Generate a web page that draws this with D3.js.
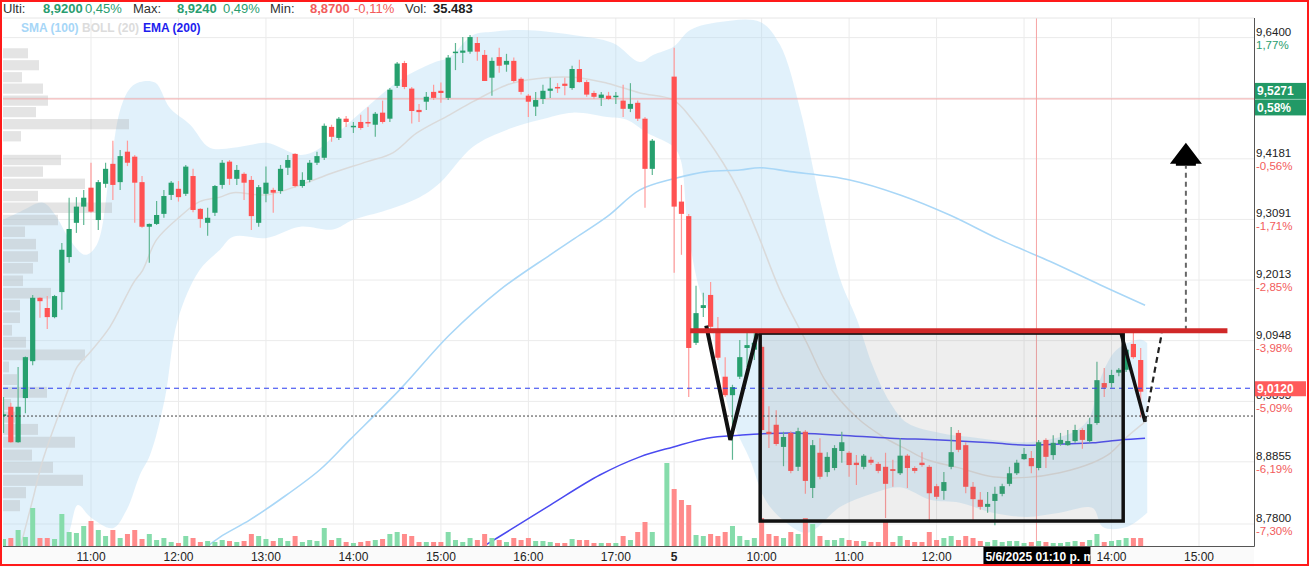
<!DOCTYPE html>
<html><head><meta charset="utf-8">
<script src="https://cdn.jsdelivr.net/npm/d3@7"></script>
<style>
html,body{margin:0;padding:0;background:#fff;}
svg{display:block;font-family:"Liberation Sans",Arial,sans-serif;}
</style></head><body>
<svg id="chart" width="1310" height="567"></svg>
<script>
// ---------- DATA ----------
// bar slots: 5-minute index (day 1 09:00 = 0, day 2 09:00 = 104)
const slots = [12,13,14,15,16,17,18,19,20,21,22,23,24,25,26,27,28,29,30,31,32,33,34,35,36,37,38,39,40,41,
42,43,44,45,46,47,48,49,50,51,52,53,54,55,56,57,58,59,60,61,62,63,64,65,66,67,68,69,70,71,
72,73,74,75,76,77,78,79,80,81,82,83,84,85,86,87,88,89,90,91,92,93,94,95,96,97,98,99,100,101,103,
104,105,106,107,108,109,110,111,112,113,114,115,116,117,118,119,120,121,122,123,124,125,126,127,128,129,130,131,132,133,
134,135,136,137,138,139,140,141,142,143,144,145,146,147,148,149,150,151,152,153,154,155,156,157,158,159,160,161,162,163,
164,165,166,167,168];
const opens = [8.964,8.980,8.919,8.995,9.059,9.170,9.152,9.136,9.180,9.242,
9.303,9.332,9.366,9.308,9.373,9.409,9.376,9.431,9.422,9.376,
9.296,9.301,9.319,9.353,9.364,9.355,9.387,9.328,9.303,9.321,
9.371,9.413,9.382,9.391,9.380,9.303,9.355,9.362,9.360,9.402,
9.427,9.369,9.380,9.411,9.420,9.476,9.456,9.491,9.476,9.485,
9.485,9.480,9.502,9.491,9.551,9.593,9.546,9.507,9.522,9.540,
9.542,9.529,9.612,9.612,9.614,9.630,9.608,9.566,9.604,9.590,
9.597,9.564,9.533,9.513,9.527,9.542,9.549,9.555,9.547,9.582,
9.558,9.538,9.529,9.533,9.532,9.524,9.509,9.520,9.491,9.400,null,
9.568,9.341,9.315,9.091,9.152,9.175,9.110,9.032,9.000,9.032,
9.082,9.079,9.084,8.937,8.949,8.911,8.935,8.877,8.937,8.841,
8.901,8.868,8.875,8.904,8.901,8.884,8.877,8.889,8.882,8.877,
8.873,8.866,8.896,8.875,8.884,8.877,8.844,8.836,8.877,8.935,
8.914,8.843,8.821,8.809,8.819,8.831,8.848,8.866,8.890,8.892,
8.875,8.923,8.897,8.916,8.914,8.921,8.940,8.921,8.952,9.021,
9.021,9.039,9.044,9.089,9.061];
const highs = [8.997,8.987,9.049,9.067,9.175,9.171,9.173,9.175,9.267,9.348,
9.349,9.362,9.411,9.380,9.411,9.451,9.434,9.451,9.425,9.387,
9.302,9.342,9.362,9.378,9.378,9.407,9.400,9.329,9.330,9.371,
9.416,9.416,9.407,9.394,9.387,9.371,9.404,9.366,9.407,9.425,
9.428,9.394,9.416,9.431,9.482,9.480,9.494,9.496,9.485,9.498,
9.512,9.503,9.524,9.547,9.595,9.597,9.549,9.518,9.540,9.553,
9.557,9.608,9.630,9.641,9.645,9.641,9.617,9.603,9.621,9.610,
9.603,9.567,9.536,9.540,9.553,9.566,9.556,9.566,9.588,9.599,
9.562,9.542,9.540,9.540,9.540,9.553,9.556,9.524,9.494,9.454,null,
9.621,9.371,9.319,9.191,9.179,9.198,9.136,9.066,9.018,9.096,
9.108,9.108,9.087,8.981,8.974,8.937,8.938,8.944,8.940,8.923,
8.926,8.902,8.914,8.937,8.904,8.897,8.899,8.894,8.885,8.901,
8.889,8.926,8.899,8.878,8.902,8.880,8.848,8.868,8.945,8.940,
8.919,8.851,8.834,8.834,8.843,8.848,8.877,8.889,8.909,8.904,
8.923,8.926,8.931,8.935,8.940,8.949,8.943,8.961,9.058,9.047,
9.044,9.047,9.082,9.112,9.082];
const lows = [8.935,8.918,8.918,8.969,9.052,9.135,9.115,9.134,9.149,9.232,
9.285,9.299,9.321,9.290,9.366,9.344,9.362,9.405,9.303,9.294,
9.232,9.299,9.312,9.344,9.341,9.351,9.322,9.294,9.280,9.315,
9.364,9.371,9.371,9.344,9.290,9.296,9.340,9.321,9.355,9.389,
9.367,9.366,9.376,9.407,9.416,9.449,9.452,9.476,9.465,9.471,
9.476,9.458,9.482,9.485,9.547,9.545,9.482,9.485,9.507,9.525,
9.520,9.525,9.580,9.593,9.610,9.597,9.560,9.533,9.575,9.577,
9.557,9.535,9.494,9.496,9.518,9.529,9.538,9.534,9.544,9.557,
9.531,9.527,9.514,9.525,9.518,9.494,9.503,9.487,9.330,9.389,null,
9.214,9.246,8.997,9.087,9.136,9.114,9.061,8.997,8.889,9.028,
9.049,9.061,8.937,8.909,8.913,8.878,8.866,8.870,8.831,8.824,
8.856,8.860,8.871,8.884,8.860,8.846,8.873,8.880,8.866,8.790,
8.843,8.863,8.841,8.866,8.877,8.783,8.822,8.821,8.873,8.902,
8.832,8.787,8.804,8.799,8.778,8.827,8.844,8.863,8.889,8.866,
8.871,8.875,8.889,8.913,8.913,8.918,8.908,8.918,8.949,8.997,
9.013,9.033,9.040,9.063,8.961];
const closes = [8.967,8.919,8.980,9.066,9.170,9.164,9.136,9.173,9.255,9.292,
9.332,9.348,9.323,9.376,9.400,9.371,9.423,9.411,9.375,9.296,
9.301,9.317,9.351,9.375,9.349,9.404,9.326,9.310,9.312,9.369,
9.411,9.382,9.398,9.375,9.315,9.367,9.375,9.357,9.400,9.416,
9.369,9.380,9.411,9.423,9.478,9.458,9.491,9.485,9.478,9.474,
9.483,9.500,9.485,9.544,9.592,9.549,9.505,9.503,9.531,9.529,
9.538,9.603,9.614,9.616,9.641,9.614,9.560,9.597,9.588,9.597,
9.560,9.540,9.522,9.525,9.542,9.546,9.547,9.551,9.582,9.558,
9.535,9.531,9.535,9.527,9.533,9.509,9.518,9.491,9.400,9.451,null,
9.332,9.319,9.082,9.143,9.157,9.119,9.065,9.000,9.014,9.066,
9.087,9.091,8.940,8.933,8.916,8.928,8.870,8.938,8.853,8.914,
8.860,8.894,8.909,8.919,8.880,8.880,8.896,8.884,8.870,8.848,
8.870,8.896,8.875,8.870,8.880,8.832,8.826,8.851,8.902,8.906,
8.843,8.822,8.809,8.814,8.831,8.844,8.866,8.884,8.899,8.878,
8.919,8.894,8.918,8.923,8.921,8.940,8.923,8.950,9.026,9.013,
9.035,9.044,9.079,9.066,9.006];
// volume in thousands of shares
const volumesK = [7,8,16,9,38,8,8,7,32,14,
13,20,25,16,10,16,8,12,16,7,
12,6,8,4,3,10,8,4,5,4,
6,5,4,5,12,10,7,5,8,5,
10,4,6,5,18,6,8,4,3,4,
5,6,7,12,14,12,10,4,4,4,
4,14,6,4,8,6,12,8,6,4,
8,6,8,5,5,4,3,3,7,6,
6,3,3,3,3,10,6,14,24,14,83,
57,46,41,11,10,12,10,14,20,10,
6,8,28,12,10,8,14,12,28,22,
10,6,6,8,6,5,5,4,4,26,
4,10,6,4,4,14,6,8,10,6,
10,8,5,4,6,4,5,5,3,4,
5,4,3,3,4,5,4,6,12,4,
5,6,8,8,8];

// Bollinger (20), SMA (100), EMA (200): [slot, price]
const bollUpper = [[11.5,9.306],[14.3,9.323],[17.4,9.339],[19.1,9.317],[21.1,9.273],[23.2,9.246],[24.8,9.264],[26.6,9.398],[28.0,9.507],[29.4,9.547],[30.7,9.558],[32.8,9.557],[34.8,9.511],[37.6,9.480],[40.3,9.438],[43.5,9.438],[45.8,9.443],[48.1,9.447],[52.7,9.425],[55.0,9.434],[57.2,9.458],[61.9,9.513],[66.4,9.562],[70.9,9.593],[73.2,9.604],[76.4,9.645],[79.2,9.651],[83.3,9.654],[90.1,9.645],[95.6,9.630],[99.3,9.595],[101.1,9.608],[103.9,9.623],[106.2,9.654],[110.3,9.669],[115.8,9.669],[118.5,9.627],[121.3,9.507],[124.0,9.344],[126.8,9.202],[129.1,9.131],[131.3,9.049],[133.6,8.988],[136.0,8.952],[140.5,8.935],[144.6,8.928],[147.7,8.923],[152.4,8.919],[156.9,8.928],[159.3,8.940],[161.0,8.962],[162.4,9.026],[164.7,9.079],[167.9,9.097],[168.9,9.091]];
const bollLower = [[11.5,8.719],[19.7,8.719],[21.1,8.770],[22.2,8.812],[23.9,8.792],[27.0,8.773],[28.9,8.804],[30.7,8.863],[32.1,8.897],[34.1,8.992],[35.9,9.131],[38.9,9.219],[41.7,9.255],[43.5,9.278],[48.1,9.276],[52.7,9.296],[57.2,9.291],[59.9,9.308],[64.6,9.326],[69.1,9.349],[71.9,9.375],[76.4,9.440],[81.1,9.471],[85.6,9.489],[90.1,9.502],[94.8,9.494],[97.5,9.489],[100.3,9.465],[103.9,9.440],[104.9,9.416],[105.9,9.289],[107.5,9.184],[108.5,9.154],[110.3,9.038],[112.1,8.952],[114.4,8.889],[116.5,8.821],[118.9,8.787],[122.2,8.765],[126.8,8.809],[131.3,8.832],[135.0,8.842],[139.1,8.821],[143.2,8.816],[147.7,8.799],[152.4,8.792],[156.9,8.799],[161.4,8.807],[162.8,8.775],[166.1,8.775],[168.9,8.799]];
const bollMid = [[14.3,8.741],[16.0,8.821],[17.4,8.889],[20.7,9.004],[22.1,9.049],[23.9,9.075],[26.6,9.119],[29.8,9.196],[31.1,9.219],[33.0,9.273],[36.2,9.314],[38.9,9.341],[41.7,9.349],[43.5,9.357],[48.1,9.353],[52.7,9.371],[57.2,9.393],[61.9,9.413],[65.4,9.429],[68.7,9.465],[73.2,9.498],[76.4,9.522],[81.1,9.553],[83.8,9.562],[90.1,9.567],[94.8,9.556],[99.3,9.538],[103.9,9.525],[106.2,9.494],[110.7,9.411],[113.0,9.357],[115.4,9.285],[118.5,9.184],[122.2,9.091],[124.9,9.022],[129.1,8.961],[132.7,8.928],[136.0,8.906],[138.7,8.889],[142.8,8.876],[147.7,8.860],[152.4,8.859],[156.9,8.867],[161.4,8.884],[163.8,8.900],[166.1,8.928],[168.9,8.957]];
const sma100 = [[39.6,8.739],[41.7,8.758],[45.8,8.787],[49.9,8.821],[55.4,8.872],[59.5,8.923],[66.4,9.010],[73.2,9.105],[80.1,9.184],[87.0,9.246],[90.1,9.273],[94.8,9.314],[99.3,9.362],[103.9,9.382],[108.5,9.395],[113.0,9.398],[115.8,9.402],[119.9,9.395],[128.1,9.380],[135.0,9.353],[141.8,9.317],[148.7,9.273],[155.6,9.234],[162.4,9.193],[168.6,9.157]];
const ema200 = [[77.4,8.739],[81.5,8.770],[87.0,8.812],[93.8,8.863],[99.3,8.894],[103.9,8.911],[108.5,8.926],[113.0,8.931],[119.9,8.935],[126.8,8.931],[133.6,8.926],[140.5,8.923],[147.7,8.918],[152.4,8.914],[156.9,8.916],[161.4,8.918],[165.2,8.923],[168.6,8.926]];

// volume profile (price bucket centre, volume in thousands)
const profilePrices = [8.811,8.833,8.854,8.876,8.897,8.919,8.941,8.962,8.984,9.005,9.027,9.049,9.070,9.092,9.113,9.135,9.157,9.178,9.200,9.222,9.243,9.265,9.287,9.308,9.330,9.351,9.373,9.395,9.416,9.438,9.459,9.481,9.503,9.524,9.546,9.567,9.589,9.611];
const profileVols = [17,23,80,50,29,72,35,12,8,44,14,6,82,23,9,17,17,48,20,30,35,33,22,55,109,35,82,40,58,0,18,126,33,45,40,19,36,25];

// axes
const timeTickSlots = [24,36,48,60,72,84,96,104,116,128,140,152,164,176];
const timeTickLabels = ["11:00","12:00","13:00","14:00","15:00","16:00","17:00","5","10:00","11:00","12:00","13:00","14:00","15:00"];
const gridPriceTicks = [9.64,9.5287,9.4181,9.3091,9.2013,9.0948,8.9893,8.8855,8.78];
const labelPriceTicks = [9.64,9.4181,9.3091,9.2013,9.0948,8.9893,8.8855,8.78];
const priceTickLabels = ["9,6400","9,4181","9,3091","9,2013","9,0948","8,9893","8,8855","8,7800"];
const pctTickLabels = ["1,77%","-0,56%","-1,71%","-2,85%","-3,98%","-5,09%","-6,19%","-7,30%"];

// reference levels
const refPrice = 9.5271, refPct = "0,58%";
const lastPrice = 9.0120;
const dottedLevel = 8.964;
const crosshairSlot = 153.7;
const crosshairLabel = "5/6/2025 01:10 p. m.";

// user drawings [slot, price]
const neckline = [[106.2,9.112],[179.9,9.112]];
const patternW = [[108.4,9.121],[111.7,8.923],[115.4,9.108]];
const rangeBox = [[115.8,9.108],[165.6,8.785]];
const breakLeg = [[165.2,9.113],[168.6,8.954]];
const projLeg = [[168.6,8.954],[170.9,9.108]];
const targetLine = [[174.2,9.112],[174.2,9.405]];
const targetTip = [174.2,9.447];

// header
const header = [
  {t:"Ulti:",x:3,c:"#333",b:false},{t:"8,9200",x:43,c:"#2a9d6f",b:true},{t:"0,45%",x:85,c:"#2a9d6f",b:false},
  {t:"Max:",x:133,c:"#333",b:false},{t:"8,9240",x:177,c:"#2a9d6f",b:true},{t:"0,49%",x:223,c:"#2a9d6f",b:false},
  {t:"Min:",x:270,c:"#333",b:false},{t:"8,8700",x:310,c:"#f25c5c",b:true},{t:"-0,11%",x:354,c:"#f25c5c",b:false},
  {t:"Vol:",x:405,c:"#333",b:false},{t:"35.483",x:433,c:"#222",b:true}];
const legend = [{t:"SMA (100)",x:21,c:"#a6d6f7"},{t:"BOLL (20)",x:82,c:"#dcdcdc"},{t:"EMA (200)",x:143,c:"#1d1dee"}];

// ---------- CHART ----------
const P = {l:3, r:1254, t:18, b:546};
const svg = d3.select("#chart");
const x = d3.scaleLinear().domain([24,176]).range([91,1199]);
const y = d3.scaleLog().domain([8.78,9.64]).range([524,37.6]);
const yv = d3.scaleLinear().domain([0,100]).range([546,446]);
const xp = d3.scaleLinear().domain([0,100]).range([3,103]);

svg.append("rect").attr("width",1310).attr("height",567).attr("fill","#fff");
const defs = svg.append("defs");
defs.append("clipPath").attr("id","clip").append("rect")
  .attr("x",P.l).attr("y",P.t).attr("width",P.r-P.l).attr("height",P.b-P.t);
defs.append("clipPath").attr("id","clipLbl").append("rect")
  .attr("x",x(crosshairSlot)-53).attr("y",547).attr("width",107).attr("height",18);

// bottom axis background
svg.append("rect").attr("x",0).attr("y",P.b).attr("width",P.r).attr("height",567-P.b).attr("fill","#fafafa");

const g = svg.append("g").attr("clip-path","url(#clip)");

// grid
g.selectAll(".vg").data(timeTickSlots).join("line")
  .attr("x1",d=>x(d)).attr("x2",d=>x(d)).attr("y1",P.t).attr("y2",P.b)
  .attr("stroke","#ebebeb").attr("stroke-width",1);
g.selectAll(".hg").data(gridPriceTicks).join("line")
  .attr("x1",P.l).attr("x2",P.r).attr("y1",d=>y(d)).attr("y2",d=>y(d))
  .attr("stroke","#ebebeb").attr("stroke-width",1);

// bollinger band fill
const ln = d3.line().x(d=>x(d[0])).y(d=>y(d[1])).curve(d3.curveCatmullRom.alpha(0.5));
const up = ln(bollUpper);
const lo = ln(bollLower.slice().reverse());
g.append("path").attr("d", up + "L" + lo.slice(1) + "Z")
  .attr("fill","rgba(173,216,245,0.36)").attr("stroke","none");

// volume profile
const step = 0.0216;
g.selectAll(".vp").data(profilePrices).join("rect")
  .attr("x",P.l)
  .attr("y",(d)=>y(d+step/2)+0.8)
  .attr("height",(d)=>Math.max(0,y(d-step/2)-y(d+step/2)-1.6))
  .attr("width",(d,i)=>xp(profileVols[i])-P.l)
  .attr("fill","rgba(170,170,170,0.32)");

// indicator lines
g.append("path").attr("d",ln(bollMid)).attr("fill","none").attr("stroke","#dadada").attr("stroke-width",1.5);
g.append("path").attr("d",ln(sma100)).attr("fill","none").attr("stroke","#a9d7f7").attr("stroke-width",1.6);
g.append("path").attr("d",ln(ema200)).attr("fill","none").attr("stroke","#4a4af0").attr("stroke-width",1.5);

// reference lines
g.append("line").attr("x1",P.l).attr("x2",P.r).attr("y1",y(refPrice)).attr("y2",y(refPrice))
  .attr("stroke","#f3a9a9").attr("stroke-width",1);
g.append("line").attr("x1",x(crosshairSlot)).attr("x2",x(crosshairSlot)).attr("y1",P.t).attr("y2",P.b)
  .attr("stroke","#f6a3a3").attr("stroke-width",1);

// volume bars
const bars = slots.map((s,i)=>({s, o:opens[i], h:highs[i], l:lows[i], c:closes[i], v:volumesK[i]}));
const isUp = d => d.o===null ? true : d.c >= d.o;
g.selectAll(".vol").data(bars).join("rect")
  .attr("x",d=>x(d.s)-2.5).attr("width",5)
  .attr("y",d=>yv(d.v)).attr("height",d=>P.b-yv(d.v))
  .attr("fill",d=>isUp(d)?"#86dcab":"#ff8b8b");

// candles
const cb = bars.filter(d=>d.o!==null);
g.selectAll(".wick").data(cb).join("line")
  .attr("x1",d=>x(d.s)).attr("x2",d=>x(d.s))
  .attr("y1",d=>y(d.h)).attr("y2",d=>y(d.l))
  .attr("stroke",d=>isUp(d)?"#5fb693":"#ff9a9a").attr("stroke-width",1.2);
g.selectAll(".body").data(cb).join("rect")
  .attr("x",d=>x(d.s)-2.6).attr("width",5.2)
  .attr("y",d=>y(Math.max(d.o,d.c)))
  .attr("height",d=>Math.max(1.5,Math.abs(y(d.o)-y(d.c))))
  .attr("fill",d=>isUp(d)?"#26a06e":"#ff5252");

// last price & dotted level
g.append("line").attr("x1",P.l).attr("x2",P.r).attr("y1",y(lastPrice)).attr("y2",y(lastPrice))
  .attr("stroke","#2b3cf0").attr("stroke-width",1).attr("stroke-dasharray","5,4");
g.append("line").attr("x1",P.l).attr("x2",P.r).attr("y1",y(dottedLevel)).attr("y2",y(dottedLevel))
  .attr("stroke","#444").attr("stroke-width",1).attr("stroke-dasharray","2,2");

// drawings
const pl = d3.line().x(d=>x(d[0])).y(d=>y(d[1]));
g.append("rect")
  .attr("x",x(rangeBox[0][0])).attr("y",y(rangeBox[0][1]))
  .attr("width",x(rangeBox[1][0])-x(rangeBox[0][0])).attr("height",y(rangeBox[1][1])-y(rangeBox[0][1]))
  .attr("fill","rgba(120,120,120,0.13)").attr("stroke","#111").attr("stroke-width",3.5);
g.append("path").attr("d",pl(patternW)).attr("fill","none").attr("stroke","#111").attr("stroke-width",4).attr("stroke-linejoin","miter");
g.append("path").attr("d",pl(breakLeg)).attr("fill","none").attr("stroke","#111").attr("stroke-width",3.5);
g.append("path").attr("d",pl(projLeg)).attr("fill","none").attr("stroke","#222").attr("stroke-width",2.2).attr("stroke-dasharray","6,4");
g.append("path").attr("d",pl(targetLine)).attr("fill","none").attr("stroke","#666").attr("stroke-width",2).attr("stroke-dasharray","5,4");
g.append("path").attr("d",pl(neckline)).attr("fill","none").attr("stroke","#d02828").attr("stroke-width",5);
{
  const tx = x(targetTip[0]), ty = y(targetTip[1]);
  g.append("path").attr("d",`M${tx},${ty} L${tx+16},${ty+21} L${tx+10},${ty+21} L${tx+10},${ty+23} L${tx-10},${ty+23} L${tx-10},${ty+21} L${tx-16},${ty+21} Z`)
    .attr("fill","#000");
}

// frame lines
svg.append("line").attr("x1",P.l).attr("x2",P.r).attr("y1",P.t).attr("y2",P.t).attr("stroke","#e6e6e6");
svg.append("line").attr("x1",P.l).attr("x2",P.r+0.5).attr("y1",P.b+0.5).attr("y2",P.b+0.5).attr("stroke","#555");
svg.append("line").attr("x1",P.r+0.5).attr("x2",P.r+0.5).attr("y1",P.t).attr("y2",P.b+0.5).attr("stroke","#555");

// right axis labels
const ra = svg.append("g").attr("font-size",11.5);
labelPriceTicks.forEach((v,i)=>{
  ra.append("text").attr("x",1256).attr("y",y(v)-2).attr("fill","#222").text(priceTickLabels[i]);
  ra.append("text").attr("x",1256).attr("y",y(v)+11).attr("fill",pctTickLabels[i].startsWith("-")?"#f25c5c":"#2a9d6f").text(pctTickLabels[i]);
});
// ref price boxes
{
  const yy = y(refPrice);
  ra.append("rect").attr("x",1255).attr("y",yy-16).attr("width",51).attr("height",16).attr("fill","#229966");
  ra.append("rect").attr("x",1255).attr("y",yy+0.5).attr("width",51).attr("height",16).attr("fill","#229966");
  ra.append("text").attr("x",1257).attr("y",yy-3.5).attr("fill","#fff").attr("font-weight","bold").attr("font-size",12).text(d3.format(".4f")(refPrice).replace(".",","));
  ra.append("text").attr("x",1257).attr("y",yy+13).attr("fill","#fff").attr("font-weight","bold").attr("font-size",12).text(refPct);
  const yl = y(lastPrice);
  ra.append("rect").attr("x",1255).attr("y",yl-7).attr("width",51).attr("height",15).attr("fill","#ff5a5a");
  ra.append("text").attr("x",1257).attr("y",yl+5).attr("fill","#fff").attr("font-weight","bold").attr("font-size",12).text(d3.format(".4f")(lastPrice).replace(".",","));
}

// bottom time labels (labels under the crosshair box are hidden, as in the source)
const cxh = x(crosshairSlot);
const ba = svg.append("g").attr("font-size",12).attr("text-anchor","middle");
timeTickSlots.forEach((s,i)=>{
  if (Math.abs(x(s)-cxh) < 40) return;
  ba.append("text").attr("x",x(s)).attr("y",561).attr("fill","#222")
    .attr("font-weight",timeTickLabels[i]==="5"?"bold":"normal").text(timeTickLabels[i]);
});
{
  svg.append("rect").attr("x",cxh-53).attr("y",547).attr("width",107).attr("height",18).attr("fill","#000");
  svg.append("text").attr("clip-path","url(#clipLbl)").attr("x",cxh-51).attr("y",561).attr("font-size",12)
    .attr("font-weight","bold").attr("fill","#fff").text(crosshairLabel);
}

// header
const hd = svg.append("g").attr("font-size",13);
header.forEach(h=>hd.append("text").attr("x",h.x).attr("y",13).attr("fill",h.c).attr("font-weight",h.b?"bold":"normal").text(h.t));
const lg = svg.append("g").attr("font-size",12).attr("font-weight","bold");
legend.forEach(h=>lg.append("text").attr("x",h.x).attr("y",32).attr("fill",h.c).text(h.t));

// outer red frame
svg.append("rect").attr("x",1).attr("y",1).attr("width",1307).attr("height",564)
  .attr("fill","none").attr("stroke","#ff1a1a").attr("stroke-width",2);
</script>
</body></html>
